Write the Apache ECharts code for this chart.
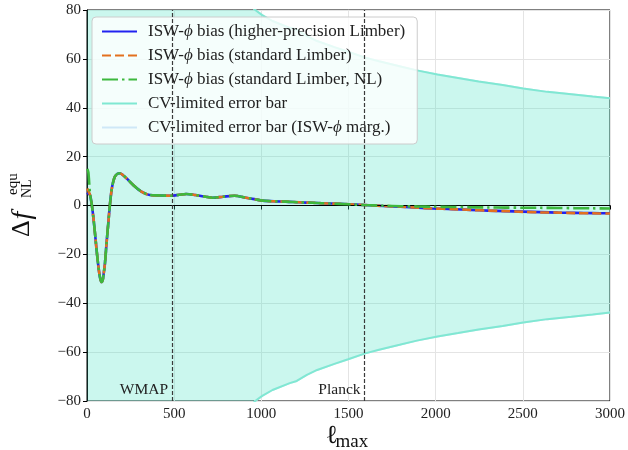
<!DOCTYPE html>
<html><head><meta charset="utf-8">
<script src="https://cdn.jsdelivr.net/npm/echarts@6/dist/echarts.min.js"></script>
<style>html,body{margin:0;padding:0;background:#fff}#c{width:628px;height:450px}</style>
</head><body><div id="c"></div>
<script>
// ---------- data ----------
const xTicks = [0, 500, 1000, 1500, 2000, 2500, 3000];
const yTicks = [-80, -60, -40, -20, 0, 20, 40, 60, 80];

const ellBias = [2, 8, 17, 27, 36, 46, 55, 63, 70, 77, 84, 90, 96, 103, 112, 122, 131, 141, 150, 160, 175, 189, 205, 227, 265, 312, 360, 420, 484, 530, 570, 620, 680, 722, 780, 846, 912, 960, 1008, 1080, 1141, 1220, 1293, 1400, 1500, 1590, 1700, 1800, 1900, 1980, 2100, 2200, 2300, 2400, 2500, 2600, 2700, 2800, 2900, 3000];
const biasHigh = [4.5, 5.0, 4.3, 0.5, -4.6, -11.5, -18.2, -23.5, -27.5, -30.2, -31.3, -30.6, -27.8, -23.7, -15.5, -7.3, 0.0, 6.3, 9.6, 11.8, 13.0, 13.2, 12.5, 11.1, 8.4, 5.7, 4.3, 4.1, 4.0, 4.4, 4.7, 4.3, 3.6, 3.2, 3.6, 4.0, 3.2, 2.6, 2.0, 1.7, 1.6, 1.3, 1.1, 0.8, 0.5, 0.2, -0.2, -0.5, -0.9, -1.2, -1.5, -1.8, -2.1, -2.3, -2.5, -2.7, -2.9, -3.0, -3.1, -3.2];
const biasStd = [7.0, 6.0, 4.4, 0.5, -4.6, -11.5, -18.2, -23.5, -27.5, -30.2, -31.3, -30.6, -27.8, -23.7, -15.5, -7.3, 0.0, 6.3, 9.6, 11.8, 13.0, 13.2, 12.5, 11.1, 8.4, 5.7, 4.3, 4.1, 4.0, 4.4, 4.7, 4.3, 3.6, 3.2, 3.6, 4.0, 3.2, 2.6, 2.0, 1.7, 1.6, 1.3, 1.1, 0.8, 0.5, 0.2, -0.2, -0.5, -0.9, -1.2, -1.5, -1.8, -2.1, -2.3, -2.6, -2.8, -2.9, -3.1, -3.2, -3.3];
const biasStdNL = [15.0, 13.5, 5.0, 0.6, -4.6, -11.5, -18.2, -23.5, -27.5, -30.2, -31.3, -30.6, -27.8, -23.7, -15.5, -7.3, 0.0, 6.3, 9.6, 11.8, 13.0, 13.2, 12.5, 11.1, 8.4, 5.7, 4.3, 4.1, 4.0, 4.4, 4.7, 4.3, 3.6, 3.2, 3.6, 4.0, 3.2, 2.6, 2.0, 1.7, 1.6, 1.3, 1.1, 0.8, 0.5, 0.2, -0.1, -0.3, -0.4, -0.5, -0.6, -0.7, -0.8, -0.85, -0.9, -0.95, -1.0, -1.1, -1.15, -1.2];

const ellCV = [2, 20, 50, 100, 200, 300, 400, 500, 600, 700, 800, 900, 965, 1005, 1064, 1163, 1203, 1261, 1320, 1419, 1498, 1596, 1675, 1793, 1892, 2010, 2128, 2246, 2384, 2502, 2640, 2778, 2900, 3000];
const cvUpper = [40000, 4000, 1600, 900, 420, 270, 200, 155, 125, 105, 93, 85, 80, 77.9, 75.5, 72.7, 72.0, 69.3, 67.3, 64.8, 62.9, 60.5, 59.0, 57.0, 55.3, 53.6, 52.2, 50.7, 49.3, 47.9, 46.5, 45.5, 44.6, 43.9];
const cvLower = [-40000, -4000, -1600, -900, -420, -270, -200, -155, -125, -105, -93, -85, -80, -77.9, -75.5, -72.7, -71.8, -69.3, -67.3, -64.8, -62.9, -60.5, -59.0, -57.0, -55.3, -53.6, -52.2, -50.7, -49.3, -47.9, -46.5, -45.5, -44.6, -43.8];

const surveyNames = ['WMAP', 'Planck'];
const surveyEll = [488, 1592];

const names = ['ISW-ϕ bias (higher-precision Limber)', 'ISW-ϕ bias (standard Limber)', 'ISW-ϕ bias (standard Limber, NL)', 'CV-limited error bar', 'CV-limited error bar (ISW-ϕ marg.)'];

// ---------- chart ----------
const pairs = (xs, ys) => xs.map((x, i) => [x, ys[i]]);
const SERIF = "'Liberation Serif','DejaVu Serif',serif";
const chart = echarts.init(document.getElementById('c'), null, {renderer: 'canvas'});

const fmtNum = v => (v < 0 ? '\u2212' + Math.abs(v) : String(v));

const lineSeries = (name, xs, ys, color, width, type, z, extra) => Object.assign({
  type: 'line', name: name, data: pairs(xs, ys), symbol: 'none', showSymbol: false,
  itemStyle: {color: color}, lineStyle: {color: color, width: width, type: type}, z: z
}, extra || {});

const option = {
  animation: false,
  backgroundColor: '#fff',
  grid: {left: 87, right: 16, top: 10, bottom: 49, show: true, borderColor: '#000', borderWidth: 1, backgroundColor: 'transparent', containLabel: false},
  xAxis: {
    type: 'value', min: xTicks[0], max: xTicks[xTicks.length - 1], interval: 500,
    axisLine: {show: true, lineStyle: {color: '#000', width: 1}},
    axisTick: {show: true, inside: false, length: 4, lineStyle: {color: '#000'}},
    axisLabel: {color: '#222', fontFamily: SERIF, fontSize: 15, margin: 6, formatter: fmtNum},
    splitLine: {show: true, lineStyle: {color: '#e4e4e4', width: 1}}
  },
  yAxis: {
    type: 'value', min: yTicks[0], max: yTicks[yTicks.length - 1], interval: 20,
    axisLine: {show: true, lineStyle: {color: '#000', width: 1}},
    axisTick: {show: true, inside: false, length: 4, lineStyle: {color: '#000'}},
    axisLabel: {color: '#222', fontFamily: SERIF, fontSize: 15, margin: 6, formatter: fmtNum},
    splitLine: {show: true, lineStyle: {color: '#e4e4e4', width: 1}}
  },
  legend: {
    orient: 'vertical', left: 92, top: 17,
    data: names,
    itemWidth: 35, itemHeight: 14, itemGap: 7,
    padding: [6, 12, 8, 9],
    backgroundColor: 'rgba(255,255,255,0.8)',
    borderColor: '#cccccc', borderWidth: 1, borderRadius: 4,
    selectedMode: false,
    itemStyle: {opacity: 0},
    formatter: n => '{p|}{t|' + n.replace('ϕ', '}{i|ϕ}{t|') + '}',
    textStyle: {
      fontFamily: SERIF, fontSize: 17, color: '#222', lineHeight: 17,
      rich: {
        p: {width: 6, fontSize: 17, lineHeight: 17},
        t: {fontFamily: SERIF, fontSize: 17, color: '#222', lineHeight: 17},
        i: {fontFamily: SERIF, fontSize: 17, color: '#222', fontStyle: 'italic', lineHeight: 17}
      }
    }
  },
  series: [
    // fill between CV bounds
    {type: 'custom', name: '_fill', silent: true, z: 1,
     data: ellCV.map((x, i) => [x, cvLower[i], cvUpper[i]]),
     encode: {x: 0, y: [1, 2]},
     renderItem: function (params, api) {
       if (params.dataIndex !== 0) return null;
       const pts = [];
       for (let i = 0; i < ellCV.length; i++) pts.push(api.coord([ellCV[i], cvUpper[i]]));
       for (let i = ellCV.length - 1; i >= 0; i--) pts.push(api.coord([ellCV[i], cvLower[i]]));
       const cs = params.coordSys;
       return {type: 'polygon', shape: {points: pts},
         style: {fill: 'rgb(64,224,192)', opacity: 0.27},
         clipPath: {type: 'rect', shape: {x: cs.x, y: cs.y, width: cs.width, height: cs.height}}};
     }},
    // marginalised CV error bar (beneath)
    lineSeries(names[4], ellCV, cvLower, '#cfe8f7', 2, 'solid', 2),
    lineSeries(names[4], ellCV, cvUpper, '#cfe8f7', 2, 'solid', 2),
    // CV error bar
    lineSeries(names[3], ellCV, cvLower, '#80e8d2', 2, 'solid', 2),
    lineSeries(names[3], ellCV, cvUpper, '#80e8d2', 2, 'solid', 2),
    // zero line
    {type: 'line', name: '_zero', data: [], z: 2, silent: true,
     markLine: {silent: true, symbol: ['none', 'none'], label: {show: false}, animation: false,
       lineStyle: {color: '#000', width: 1, type: 'solid'}, data: [{yAxis: 0}]}},
    // bias curves
    lineSeries(names[0], ellBias, biasHigh, '#2222f0', 2.6, 'solid', 3, {smooth: 0.3}),
    lineSeries(names[1], ellBias, biasStd, '#e3701e', 2.6, [9, 4], 4, {smooth: 0.3}),
    lineSeries(names[2], ellBias, biasStdNL, '#3db83d', 2.6, [16, 4, 2.5, 4], 5, {smooth: 0.3}),
    // survey ell_max lines
    {type: 'line', name: '_surveys', data: [], z: 6, silent: true,
     markLine: {silent: true, symbol: ['none', 'none'], label: {show: false}, animation: false,
       lineStyle: {color: '#3a3a3a', width: 1.2, type: [4, 2]},
       data: surveyEll.map(v => ({xAxis: v}))}}
  ]
};
chart.setOption(option);

// text annotations (axis titles & survey labels)
const graphics = [];
surveyEll.forEach((v, i) => {
  const p = chart.convertToPixel({gridIndex: 0}, [v, yTicks[0]]);
  graphics.push({type: 'text', x: p[0] - 4, y: p[1] - 3, z: 10,
    style: {text: surveyNames[i], font: "15.5px " + SERIF, fill: '#222', align: 'right', verticalAlign: 'bottom'}});
});
// x-axis title: ℓ_max
const xc = chart.convertToPixel({gridIndex: 0}, [1500, yTicks[0]]);
graphics.push({type: 'text', x: xc[0] - 23, y: 436, z: 10,
  style: {text: 'ℓ', font: "26px 'DejaVu Serif',serif", fill: '#111', align: 'left', verticalAlign: 'middle'}});
graphics.push({type: 'text', x: xc[0] - 13, y: 442.5, z: 10,
  style: {text: 'max', font: "19px " + SERIF, fill: '#111', align: 'left', verticalAlign: 'middle'}});
// y-axis title: Δ f^equ_NL (rotated)
graphics.push({type: 'group', x: 31.7, y: 238, rotation: Math.PI / 2, z: 10, children: [
  {type: 'text', x: 1, y: -9.3, style: {text: 'Δ', font: "26px " + SERIF, fill: '#111', align: 'left', verticalAlign: 'middle'}},
  {type: 'text', x: 18.5, y: -9.3, style: {text: 'f', font: "italic 28px " + SERIF, fill: '#111', align: 'left', verticalAlign: 'middle'}},
  {type: 'text', x: 43, y: -19, style: {text: 'equ', font: "15px " + SERIF, fill: '#111', align: 'left', verticalAlign: 'middle'}},
  {type: 'text', x: 40, y: -4.5, style: {text: 'NL', font: "14px " + SERIF, fill: '#111', align: 'left', verticalAlign: 'middle'}}
]});
chart.setOption({graphic: graphics});
</script>
</body></html>
